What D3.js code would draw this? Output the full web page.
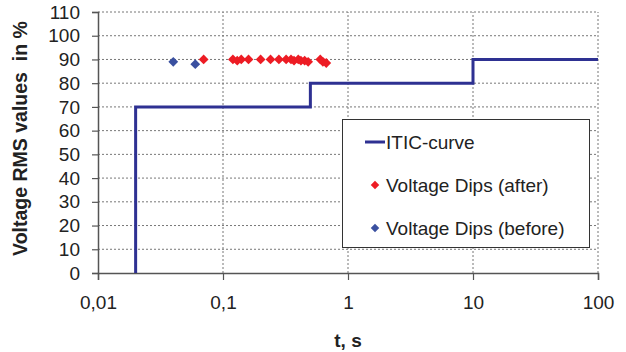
<!DOCTYPE html>
<html>
<head>
<meta charset="utf-8">
<script src="https://cdn.jsdelivr.net/npm/d3@7"></script>
<style>
  body { margin: 0; background: #fff; }
  text { font-family: "Liberation Sans", Arial, sans-serif; fill: #222; }
</style>
</head>
<body>
<div id="chart"></div>
<script>
const width = 626;
const height = 352;

// ITIC curve (step)
const iticT = [0.02, 0.02, 0.5, 0.5, 10, 10, 100];
const iticV = [0, 70, 70, 80, 80, 90, 90];

// Voltage dips before
const beforeT = [0.04, 0.06];
const beforeV = [89, 88];

// Voltage dips after
const afterT = [0.07, 0.12, 0.13, 0.14, 0.16, 0.2, 0.24, 0.28, 0.32, 0.35, 0.37, 0.4, 0.42, 0.45, 0.48, 0.6, 0.63, 0.67];
const afterV = [90, 90, 89.5, 90, 90, 90, 90, 90, 90, 90, 89.5, 90, 89.5, 89.5, 89, 90, 89, 88.5];

const xTicks = [0.01, 0.1, 1, 10, 100];
const xLabels = ["0,01", "0,1", "1", "10", "100"];
const yTicks = d3.range(0, 111, 10);

const legendItems = ["ITIC-curve", "Voltage Dips (after)", "Voltage Dips (before)"];

const margin = { left: 98, right: 28, top: 12, bottom: 79 };

const svg = d3.select("#chart").append("svg")
  .attr("width", width)
  .attr("height", height);

const x = d3.scaleLog()
  .domain([0.01, 100])
  .range([margin.left, width - margin.right]);

const y = d3.scaleLinear()
  .domain([0, 110])
  .range([height - margin.bottom, margin.top]);

// Grid
svg.append("g")
  .selectAll("line")
  .data(yTicks.slice(1))
  .enter().append("line")
  .attr("x1", x(0.01)).attr("x2", x(100))
  .attr("y1", d => y(d)).attr("y2", d => y(d))
  .attr("stroke", "#777").attr("stroke-width", 1)
  .attr("stroke-dasharray", "2,2");

svg.append("g")
  .selectAll("line")
  .data(xTicks.slice(1))
  .enter().append("line")
  .attr("x1", d => x(d)).attr("x2", d => x(d))
  .attr("y1", y(0)).attr("y2", y(110))
  .attr("stroke", "#777").attr("stroke-width", 1)
  .attr("stroke-dasharray", "2,2");

// Axes
const xAxis = svg.append("g")
  .attr("transform", `translate(0,${y(0)})`)
  .call(d3.axisBottom(x).tickValues(xTicks).tickFormat((d, i) => xLabels[i]).tickSize(7).tickPadding(16));

const yAxis = svg.append("g")
  .attr("transform", `translate(${x(0.01)},0)`)
  .call(d3.axisLeft(y).tickValues(yTicks).tickSize(6).tickPadding(12));

[xAxis, yAxis].forEach(a => {
  a.select(".domain").attr("stroke", "#555").attr("stroke-width", 1.5);
  a.selectAll(".tick line").attr("stroke", "#555").attr("stroke-width", 1.2);
  a.selectAll(".tick text")
    .attr("font-family", "Liberation Sans, Arial, sans-serif")
    .attr("font-size", 19).attr("fill", "#222");
});

// ITIC curve
const line = d3.line()
  .x(d => x(d[0]))
  .y(d => y(d[1]));

svg.append("path")
  .datum(iticT.map((t, i) => [t, iticV[i]]))
  .attr("d", line)
  .attr("fill", "none")
  .attr("stroke", "#2E3192")
  .attr("stroke-width", 3);

// Diamonds
const diamond = d3.symbol().type(d3.symbolSquare).size(48);

svg.append("g")
  .selectAll("path")
  .data(afterT.map((t, i) => [t, afterV[i]]))
  .enter().append("path")
  .attr("d", diamond)
  .attr("transform", d => `translate(${x(d[0])},${y(d[1])}) rotate(45)`)
  .attr("fill", "#ED1C24");

svg.append("g")
  .selectAll("path")
  .data(beforeT.map((t, i) => [t, beforeV[i]]))
  .enter().append("path")
  .attr("d", diamond)
  .attr("transform", d => `translate(${x(d[0])},${y(d[1])}) rotate(45)`)
  .attr("fill", "#3A50A0");

// Legend
const legend = svg.append("g");
legend.append("rect")
  .attr("x", 342.5).attr("y", 119.5)
  .attr("width", 247).attr("height", 128)
  .attr("fill", "#fff").attr("stroke", "#333").attr("stroke-width", 1);

const legendY = [142, 185, 228];
legend.append("line")
  .attr("x1", 365).attr("x2", 385)
  .attr("y1", legendY[0]).attr("y2", legendY[0])
  .attr("stroke", "#2E3192").attr("stroke-width", 3);
legend.append("path")
  .attr("d", d3.symbol().type(d3.symbolSquare).size(36))
  .attr("transform", `translate(375,${legendY[1]}) rotate(45)`)
  .attr("fill", "#ED1C24");
legend.append("path")
  .attr("d", d3.symbol().type(d3.symbolSquare).size(36))
  .attr("transform", `translate(375,${legendY[2]}) rotate(45)`)
  .attr("fill", "#3A50A0");

legend.selectAll("text")
  .data(legendItems)
  .enter().append("text")
  .attr("x", 386)
  .attr("y", (d, i) => legendY[i])
  .attr("dy", "0.35em")
  .attr("font-size", 19)
  .text(d => d);

// Axis titles
svg.append("text")
  .attr("x", x(1))
  .attr("y", 347)
  .attr("text-anchor", "middle")
  .attr("font-size", 19)
  .attr("font-weight", "bold")
  .text("t, s");

svg.append("text")
  .attr("transform", `translate(27,${(y(0) + y(110)) / 2 - 4}) rotate(-90)`)
  .attr("text-anchor", "middle")
  .attr("font-size", 19.5)
  .attr("font-weight", "bold")
  .attr("xml:space", "preserve")
  .style("white-space", "pre")
  .text("Voltage RMS values  in %");
</script>
</body>
</html>
